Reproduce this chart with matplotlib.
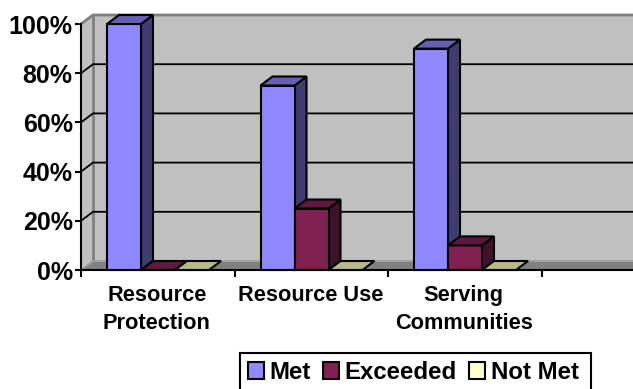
import matplotlib
matplotlib.use('Agg')
import matplotlib.pyplot as plt
from matplotlib.patches import Polygon, Patch, Rectangle

plt.rcParams['font.family'] = ['Liberation Sans', 'DejaVu Sans']
plt.rcParams['font.weight'] = 'bold'

categories = ['Resource\nProtection', 'Resource Use', 'Serving\nCommunities', '']
series_names = ['Met', 'Exceeded', 'Not Met']
met = [100, 75, 90]
exceeded = [0, 25, 10]
not_met = [0, 0, 0]
y_ticks = [0, 20, 40, 60, 80, 100]

front_colors = ['#8F88FF', '#7F2252', '#FFFFCC']
side_colors = ['#3F3D70', '#40112B', '#6E6E55']
top_colors = ['#6560B4', '#60183E', '#B9BA88']
legend_colors = ['#8F88FF', '#7F2252', '#FFFFCC']

W, H = 633, 389
fig = plt.figure(figsize=(W / 100, H / 100), dpi=100)
# axes run from the front-left corner of the 3d box to the figure edge
ax = fig.add_axes([81 / W, 1 - 270 / H, (W - 81) / W, 246 / H])
cat_w = 153.5
ax.set_xlim(0, (W - 81) / cat_w)
ax.set_ylim(0, 100)

dx = 12 / cat_w          # depth of the box along x
dy = 9 / 246 * 100       # depth of the box along y
xmax = ax.get_xlim()[1]

def poly(pts, fc, ec='none', lw=0, z=1):
    ax.add_patch(Polygon(pts, closed=True, fc=fc, ec=ec, lw=lw, zorder=z,
                         clip_on=False, joinstyle='miter'))

# walls and floor
poly([(dx, dy), (dx, 100 + dy), (xmax, 100 + dy), (xmax, dy)], '#C0C0C0')
poly([(0, 0), (0, 100), (dx, 100 + dy), (dx, dy)], '#C0C0C0')
poly([(0, 0), (dx, dy), (xmax, dy), (xmax, 0)], '#808080')
ax.plot([0, dx, xmax], [100, 100 + dy, 100 + dy], color='#808080', lw=2, zorder=2, clip_on=False)
ax.plot([dx, dx], [dy, 100 + dy], color='#808080', lw=2, zorder=2, clip_on=False)
ax.plot([0, dx, xmax], [0, dy, dy], color='#A0A0A0', lw=1.5, zorder=2)

# gridlines wrap round the side wall onto the back wall
for v in y_ticks[1:-1]:
    ax.plot([0, dx, xmax], [v, v + dy, v + dy], color='black', lw=1.3, zorder=3, clip_on=False)

# 3d bars
bar_w = 34 / cat_w
start = 26 / cat_w
for s, vals in enumerate([met, exceeded, not_met]):
    for c, v in enumerate(vals):
        x0 = c + start + s * bar_w
        x1 = x0 + bar_w
        z = 10 + c * 3 + s
        if v > 0:
            poly([(x1, 0), (x1, v), (x1 + dx, v + dy), (x1 + dx, dy)], side_colors[s], 'black', 1.5, z)
            poly([(x0, 0), (x0, v), (x1, v), (x1, 0)], front_colors[s], 'black', 1.5, z)
        poly([(x0, v), (x0 + dx, v + dy), (x1 + dx, v + dy), (x1, v)], top_colors[s], 'black', 1.5, z)

for side in ['top', 'right']:
    ax.spines[side].set_visible(False)
for side in ['left', 'bottom']:
    ax.spines[side].set_linewidth(1.5)
    ax.spines[side].set_zorder(30)

ax.set_yticks(y_ticks)
ax.set_yticklabels(['%d%%' % v for v in y_ticks], fontsize=18, fontweight='bold')
ax.tick_params(axis='y', length=4, width=1.5, pad=2)
ax.set_xticks(range(len(categories)))
ax.set_xticklabels([''] * len(categories))
ax.tick_params(axis='x', length=5, width=1.5)

for i, name in enumerate(categories):
    ax.annotate(name, (i + 0.5, 0), xytext=(-0.7, -10.5), textcoords='offset points',
                ha='center', va='top', fontsize=15.7, fontweight='bold', linespacing=1.45,
                annotation_clip=False)

# legend box runs past the bottom of the figure
fig.add_artist(Rectangle((240 / W, 1 - 393 / H), 351 / W, 40 / H, transform=fig.transFigure,
                         fc='white', ec='black', lw=1.5, clip_on=False))
handles = [Patch(fc=c, ec='black', lw=1.5, label=n) for c, n in zip(legend_colors, series_names)]
leg = fig.legend(handles=handles, ncol=3, loc='center left', bbox_to_anchor=(248 / W, 1 - 372.7 / H),
                 fontsize=17.3, frameon=False,
                 handlelength=0.65, handleheight=0.72, handletextpad=0.25, columnspacing=0.5,
                 borderpad=0, borderaxespad=0)

fig.savefig('out.png', dpi=100)
